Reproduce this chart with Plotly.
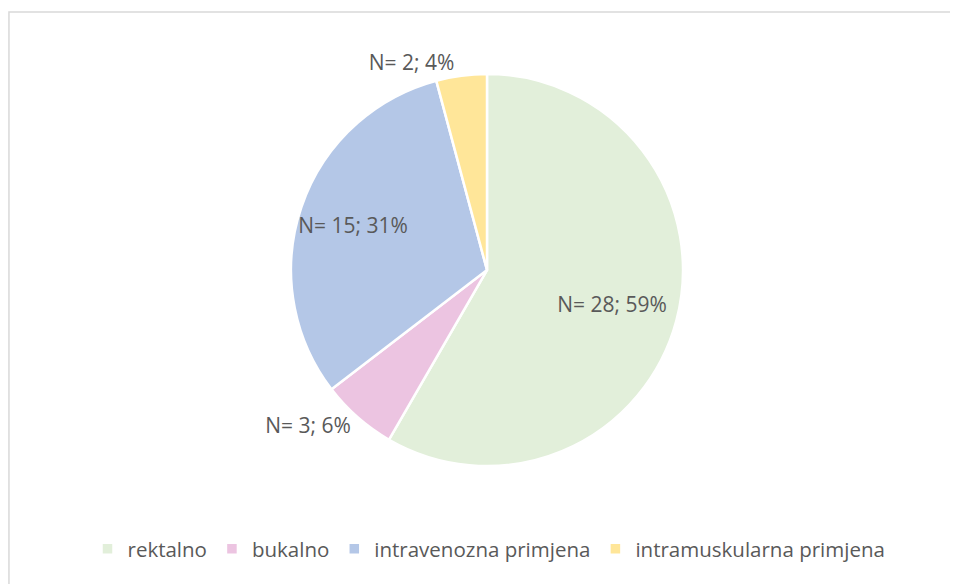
import plotly.graph_objects as go

categories = ["rektalno", "bukalno", "intravenozna primjena", "intramuskularna primjena"]
counts = [28, 3, 15, 2]
percent_labels = ["59%", "6%", "31%", "4%"]
colors = ["#E2EFDA", "#ECC4E1", "#B4C7E7", "#FFE699"]
label_inside = [True, False, True, False]

W, H = 958, 584
OFF = 8  # page body margin offset
cx, cy, r = 487 - OFF, 270 - OFF, 196
R_text = 259  # radius of the transparent label pie (pushes inside labels outward)

labels_text = [f"N= {n}; {p}" for n, p in zip(counts, percent_labels)]
outside_text = ["" if ins else t for ins, t in zip(label_inside, labels_text)]
inside_text = [t if ins else "" for ins, t in zip(label_inside, labels_text)]

font = dict(family="Open Sans", size=21, color="#595959")


def dom(rad):
    return dict(x=[(cx - rad) / W, (cx + rad) / W],
                y=[(H - cy - rad) / H, (H - cy + rad) / H])


fig = go.Figure()
fig.add_trace(go.Pie(
    labels=categories,
    values=counts,
    text=outside_text,
    textinfo="text",
    textposition="outside",
    sort=False,
    direction="clockwise",
    rotation=0,
    marker=dict(colors=colors, line=dict(color="white", width=2.5)),
    textfont=font,
    domain=dom(r),
    hoverinfo="label+value",
))
fig.add_trace(go.Pie(
    labels=categories,
    values=counts,
    text=inside_text,
    textinfo="text",
    textposition="inside",
    insidetextorientation="horizontal",
    sort=False,
    direction="clockwise",
    rotation=0,
    marker=dict(colors=["rgba(0,0,0,0)"] * len(counts), line=dict(width=0)),
    textfont=font,
    domain=dom(R_text),
    hoverinfo="skip",
    showlegend=False,
))

fig.update_layout(
    width=W, height=H,
    margin=dict(l=0, r=0, t=0, b=0),
    paper_bgcolor="white",
    plot_bgcolor="white",
    showlegend=True,
    legend=dict(
        orientation="h",
        x=(489 - OFF) / W, xanchor="center",
        y=(H - 549 + OFF) / H, yanchor="middle",
        font=dict(family="Open Sans", size=20.5, color="#595959"),
        traceorder="normal",
    ),
    shapes=[dict(
        type="rect", xref="paper", yref="paper",
        x0=0.001, x1=1.05, y0=-0.05, y1=(H - 12 + OFF) / H,
        line=dict(color="#D9D9D9", width=1.5),
    )],
)

fig.write_html("out.html")
